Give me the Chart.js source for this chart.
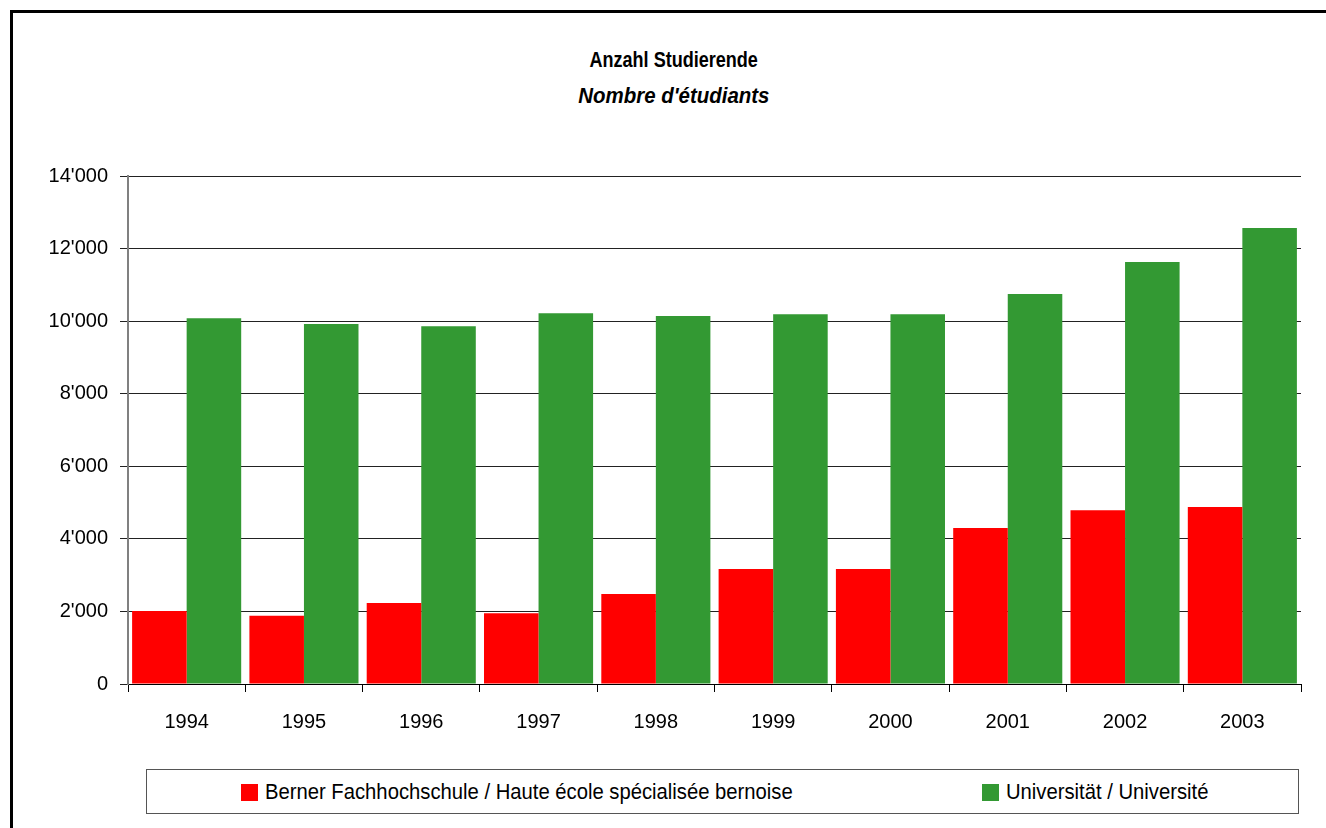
<!DOCTYPE html>
<html>
<head>
<meta charset="utf-8">
<script src="https://cdn.jsdelivr.net/npm/chart.js@4"></script>
<style>
  html, body { margin: 0; padding: 0; background: #fff; overflow: hidden; }
  body { width: 1326px; height: 828px; position: relative;
         font-family: "Liberation Sans", Arial, sans-serif; }
  #frame { position: absolute; left: 10px; top: 10px; width: 1325px; height: 830px;
           border: 3px solid #000; box-sizing: border-box; }
  .title { position: absolute; left: 10px; width: 1328px; text-align: center; color: #000;
           font-weight: bold; font-size: 22px; line-height: 25px; }
  .narrow { display: inline-block; transform: scaleX(0.82); }
  .title .narrow { transform-origin: center; }
  #t1 { top: 47px; }
  #t2 { top: 83px; font-style: italic; }
  #t2 .narrow { transform: scaleX(0.93); }
  #wrap { position: absolute; left: 0; top: 0; width: 1326px; height: 740px; }
  #legend { position: absolute; left: 146px; top: 769px; width: 1153px; height: 45px;
            border: 1px solid #555; box-sizing: border-box; font-size: 22px; }
  .item { position: absolute; top: 9px; height: 25px; line-height: 25px; white-space: nowrap; }
  .box { position: absolute; left: 0; top: 5px; width: 17px; height: 17px; }
  .item .narrow { position: absolute; left: 24px; top: 0; transform-origin: left; transform: scaleX(0.92); }
</style>
</head>
<body>
<div id="frame"></div>
<div id="t1" class="title"><span class="narrow">Anzahl Studierende</span></div>
<div id="t2" class="title"><span class="narrow">Nombre d'étudiants</span></div>
<div id="wrap"><canvas id="chart"></canvas></div>
<div id="legend"></div>
<script>
// data
const years = ["1994", "1995", "1996", "1997", "1998", "1999", "2000", "2001", "2002", "2003"];
const seriesNames = ["Berner Fachhochschule / Haute école spécialisée bernoise", "Universität / Université"];
const fachhochschule = [2010, 1880, 2230, 1950, 2480, 3170, 3170, 4300, 4790, 4880];
const universitaet = [10080, 9920, 9860, 10220, 10140, 10190, 10190, 10750, 11630, 12570];
const yTicks = [0, 2000, 4000, 6000, 8000, 10000, 12000, 14000];
const colors = ["#ff0000", "#339933"];

function fmt(v) {
   // 14000 -> 14'000
   return String(v).replace(/\B(?=(\d{3})+(?!\d))/g, "'");
}

// legend (html, so the text can be squeezed like Arial Narrow)
const legendPos = [94, 835];
const legend = document.getElementById("legend");
seriesNames.forEach(function (name, i) {
   const el = document.createElement("div");
   el.className = "item";
   el.style.left = legendPos[i] + "px";
   el.innerHTML = '<span class="box" style="background:' + colors[i] + '"></span>' +
      '<span class="narrow">' + name + "</span>";
   legend.appendChild(el);
});

const fontFamily = '"Liberation Sans", Arial, sans-serif';

const ctx = document.getElementById("chart").getContext("2d");
const chart = new Chart(ctx, {
   type: "bar",
   data: {
      labels: years,
      datasets: [
         {
            label: seriesNames[0],
            data: fachhochschule,
            backgroundColor: colors[0],
         },
         {
            label: seriesNames[1],
            data: universitaet,
            backgroundColor: colors[1],
         },
      ],
   },
   options: {
      responsive: true,
      maintainAspectRatio: false,
      animation: false,
      layout: {
         padding: { left: 40, right: 25, top: 176, bottom: 0 },
      },
      plugins: {
         legend: { display: false },
         tooltip: { enabled: false },
      },
      datasets: {
         bar: { categoryPercentage: 0.93, barPercentage: 1.0 },
      },
      scales: {
         x: {
            afterFit: function (scale) { scale.height = 56; },
            grid: {
               offset: true,
               drawOnChartArea: false,
               drawTicks: true,
               tickLength: 8,
               color: "#000",
            },
            border: { display: true, color: "#000", width: 1 },
            ticks: {
               color: "#000",
               padding: 18,
               font: { family: fontFamily, size: 20 },
            },
         },
         y: {
            min: 0,
            max: 14000,
            afterFit: function (scale) { scale.width = 88; },
            afterBuildTicks: function (scale) {
               scale.ticks = yTicks.map(function (v) { return { value: v }; });
            },
            grid: {
               color: "#222",
               lineWidth: 1,
               tickLength: 8,
            },
            border: { display: true, color: "#808080", width: 2 },
            ticks: {
               color: "#000",
               padding: 12,
               font: { family: fontFamily, size: 20 },
               callback: function (v) { return fmt(v); },
            },
         },
      },
   },
});
</script>
</body>
</html>
